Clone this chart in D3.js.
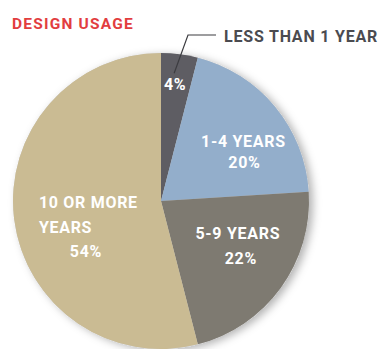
<!DOCTYPE html>
<html>
<head>
<meta charset="utf-8">
<script src="https://cdn.jsdelivr.net/npm/d3@7"></script>
<style>
  html, body { margin: 0; padding: 0; background: #fff; }
  #chart { width: 378px; height: 349px; }
  text { font-family: Roboto, "DejaVu Sans", sans-serif; font-weight: 700; }
</style>
</head>
<body>
<div id="chart"></div>
<script>
// Data
const categories = ["LESS THAN 1 YEAR", "1-4 YEARS", "5-9 YEARS", "10 OR MORE YEARS"];
const shares = [4, 20, 22, 54];
const sliceColors = ["#5e5d63", "#93aecb", "#7e7a71", "#cabb93"];
// label lines inside each slice (first slice's name goes in the callout)
const sliceLabels = [["4%"], ["1-4 YEARS", "20%"], ["5-9 YEARS", "22%"], ["10 OR MORE", "YEARS", "54%"]];

const width = 378, height = 349;
const cx = 161, cy = 201, radius = 148;

const svg = d3.select("#chart").append("svg")
    .attr("width", width)
    .attr("height", height);

// soft shadow under the pie
const defs = svg.append("defs");
const f = defs.append("filter").attr("id", "shadow")
    .attr("x", "-20%").attr("y", "-20%").attr("width", "140%").attr("height", "140%");
f.append("feDropShadow")
    .attr("dx", 4).attr("dy", 2).attr("stdDeviation", 4)
    .attr("flood-color", "#000").attr("flood-opacity", 0.3);

const g = svg.append("g").attr("transform", `translate(${cx},${cy})`);

const data = categories.map((c, i) => ({ key: c, value: shares[i], color: sliceColors[i], lines: sliceLabels[i] }));

const pie = d3.pie().value(d => d.value).sort(null);
const arc = d3.arc().innerRadius(0).outerRadius(radius);
const labelArc = d3.arc().innerRadius(radius * 0.6).outerRadius(radius * 0.6);
const arcs = pie(data);

g.append("circle").attr("r", radius).attr("fill", "#ccc").attr("filter", "url(#shadow)");

g.selectAll("path.slice")
    .data(arcs)
    .join("path")
    .attr("class", "slice")
    .attr("d", arc)
    .attr("fill", d => d.data.color);

// nudges from the label centroid to the first baseline, line spacing, alignment
const labelLayout = [
    { dx: 3, dy: -23, lh: 0, anchor: ["middle"], ox: [0] },
    { dx: 14, dy: 3, lh: 21, anchor: ["middle", "middle"], ox: [0, 1] },
    { dx: 5, dy: -14, lh: 25, anchor: ["middle", "middle"], ox: [0, 3] },
    { dx: -34, dy: -4, lh: 24.5, anchor: ["start", "start", "middle"], ox: [0, 0, 47] }
];

arcs.forEach((a, i) => {
    const [x, y] = labelArc.centroid(a);
    const L = labelLayout[i];
    a.data.lines.forEach((ln, j) => {
        g.append("text")
            .attr("x", x + L.dx + L.ox[j])
            .attr("y", y + L.dy + j * L.lh)
            .attr("text-anchor", L.anchor[j])
            .attr("fill", "#fff")
            .style("font-size", "16px")
            .style("letter-spacing", "0.7px")
            .text(ln);
    });
});

// callout for the smallest slice
const first = arcs[0];
const midA = (first.startAngle + first.endAngle) / 2;
const p0 = [cx + Math.sin(midA) * radius * 0.87 - 3, cy - Math.cos(midA) * radius * 0.87];
svg.append("path")
    .attr("d", d3.line()([p0, [188, 35], [216, 35]]))
    .attr("fill", "none")
    .attr("stroke", "#3c3c40")
    .attr("stroke-width", 1.2);

svg.append("text")
    .attr("x", 224)
    .attr("y", 42)
    .attr("fill", "#4b4b50")
    .style("font-size", "16px")
    .style("letter-spacing", "0.8px")
    .text(categories[0]);

// title
svg.append("text")
    .attr("x", 12)
    .attr("y", 29)
    .attr("fill", "#e23d3f")
    .style("font-size", "15.5px")
    .style("letter-spacing", "1.2px")
    .text("DESIGN USAGE");
</script>
</body>
</html>
